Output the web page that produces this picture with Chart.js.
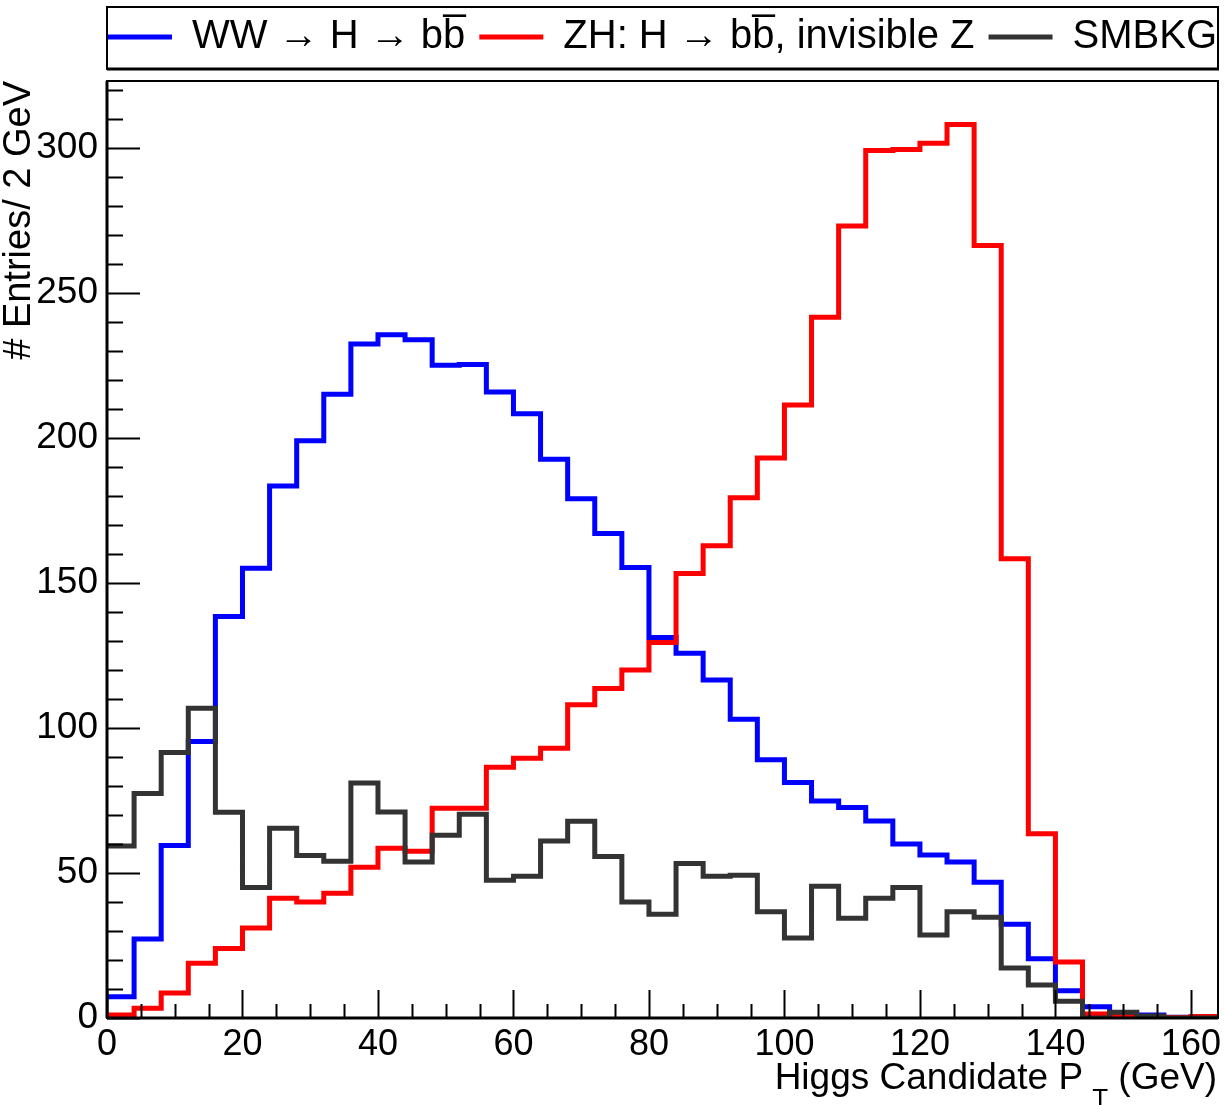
<!DOCTYPE html>
<html>
<head>
<meta charset="utf-8">
<script src="https://cdn.jsdelivr.net/npm/chart.js@4.4.1/dist/chart.umd.min.js"></script>
<style>
  html, body { margin: 0; padding: 0; background: #fff; }
  #c { display: block; }
</style>
</head>
<body>
<canvas id="c" width="1224" height="1105"></canvas>
<script>
// histogram bins, 4 GeV wide (lower edges) ..................................
const binLow = [0, 4, 8, 12, 16, 20, 24, 28, 32, 36, 40, 44, 48, 52, 56, 60, 64, 68, 72, 76,
  80, 84, 88, 92, 96, 100, 104, 108, 112, 116, 120, 124, 128, 132, 136, 140, 144, 148, 152, 156, 160];
const binHigh = 164;

const wwH = [7.3, 27.2, 59.5, 95.3, 138.4, 155, 183.4, 199, 215, 232.3, 235.5, 233.8, 225, 225.3,
  215.8, 208.3, 192.6, 179, 167, 155.3, 131.2, 125.7, 116.5, 103, 89, 81.2, 74.8, 72.6, 67.9, 60,
  56.2, 53.8, 46.8, 32.3, 20.4, 9.4, 3.9, 1.6, 1, 0.3, 0.2];
const zhH = [1, 3.4, 8.6, 18.9, 24, 31, 41.3, 40, 43, 52, 58.5, 57.5, 72.3, 72.3, 86.4, 89.5, 93,
  108, 113.6, 120, 129.4, 153.2, 162.8, 179.3, 193, 211.3, 241.6, 273, 299, 299.4, 301.5, 308,
  266.3, 158.3, 63.5, 19.3, 1.4, 0.6, 0.3, 0.2, 0.5];
const smbkg = [59.3, 77.4, 91.5, 106.8, 70.9, 45, 65.4, 56, 54, 81, 71, 53.8, 63, 70.2, 47.5, 48.9,
  61, 67.8, 55.7, 40, 35.8, 53.3, 48.9, 49.2, 36.6, 27.6, 45.4, 34.4, 41.3, 45, 28.6, 36.6, 34.7,
  17.2, 11.4, 5.8, 0, 2, 0.7, 0, 0];

const seriesNames = ['WW \u2192 H \u2192 bb\u0305', 'ZH: H \u2192 bb\u0305, invisible Z', 'SMBKG'];
const seriesColors = ['#0000ff', '#ff0000', '#333333'];

const xTicks = [0, 20, 40, 60, 80, 100, 120, 140, 160];
const yMax = 323;

const FONT = '"Liberation Sans", Arial, Helvetica, sans-serif';

function histPoints(vals) {
  let pts = binLow.map((x, i) => ({ x: x, y: vals[i] }));
  pts.push({ x: binHigh, y: vals[vals.length - 1] });
  return pts;
}

function dataset(i, vals) {
  return {
    label: seriesNames[i],
    data: histPoints(vals),
    xAxisID: 'x',
    yAxisID: 'y',
    borderColor: seriesColors[i],
    backgroundColor: seriesColors[i],
    borderWidth: 5,
    stepped: true,
    pointRadius: 0,
    fill: false,
    order: 3 - i
  };
}

// inner ticks, frame, legend box and x title (ROOT look) ......................
const rootFrame = {
  id: 'rootFrame',
  afterLayout(chart) {
    // push the legend row a bit to the right, like the ROOT legend
    chart.legend.right += 13;
  },
  afterDatasetsDraw(chart) {
    const { ctx, chartArea: a, scales: { x, y } } = chart;
    ctx.save();
    ctx.strokeStyle = '#000';
    ctx.lineWidth = 2;
    ctx.beginPath();
    for (let v = 0; v <= binHigh; v += 5) {
      const px = Math.round(x.getPixelForValue(v)) + 0.5;
      const len = v % 20 === 0 ? 28 : 14;
      ctx.moveTo(px, a.bottom);
      ctx.lineTo(px, a.bottom - len);
    }
    for (let v = 0; v <= yMax; v += 10) {
      const py = Math.round(y.getPixelForValue(v)) + 0.5;
      const len = v % 50 === 0 ? 33 : 16;
      ctx.moveTo(a.left, py);
      ctx.lineTo(a.left + len, py);
    }
    ctx.stroke();
    ctx.strokeRect(a.left, a.top, a.right - a.left, a.bottom - a.top);
    ctx.lineWidth = 3;
    ctx.beginPath();
    ctx.moveTo(a.left, a.bottom);
    ctx.lineTo(a.right, a.bottom);
    ctx.moveTo(a.left, a.top);
    ctx.lineTo(a.left, a.bottom);
    ctx.stroke();

    // legend frame
    ctx.lineWidth = 2;
    ctx.strokeRect(a.left, 7, a.right - a.left, 62);
    ctx.lineWidth = 3;
    ctx.beginPath();
    ctx.moveTo(a.left, 69);
    ctx.lineTo(a.right + 1, 69);
    ctx.stroke();

    // x axis title with subscript
    const big = '37px ' + FONT, small = '26px ' + FONT;
    const main = 'Higgs Candidate P', sub = 'T', tail = ' (GeV)';
    ctx.fillStyle = '#000';
    ctx.textBaseline = 'alphabetic';
    ctx.textAlign = 'left';
    ctx.font = big;
    const wMain = ctx.measureText(main).width, wTail = ctx.measureText(tail).width;
    ctx.font = small;
    const wSub = ctx.measureText(sub).width;
    const gap = 9;
    let tx = a.right - 1 - (wMain + gap + wSub + wTail);
    const base = 1089;
    ctx.font = big;
    ctx.fillText(main, tx, base);
    ctx.font = small;
    ctx.fillText(sub, tx + wMain + gap, base + 18);
    ctx.font = big;
    ctx.fillText(tail, tx + wMain + gap + wSub, base);
    ctx.restore();
  }
};

new Chart(document.getElementById('c'), {
  type: 'line',
  data: {
    datasets: [dataset(0, wwH), dataset(1, zhH), dataset(2, smbkg)]
  },
  options: {
    responsive: false,
    animation: false,
    devicePixelRatio: 1,
    layout: { padding: { top: 3, right: 6, left: 0, bottom: 0 } },
    plugins: {
      tooltip: { enabled: false },
      legend: {
        position: 'top',
        align: 'end',
        labels: {
          usePointStyle: true,
          pointStyle: 'line',
          pointStyleWidth: 64,
          padding: 14,
          color: '#000',
          font: { family: FONT, size: 40 },
          sort: (a, b) => a.datasetIndex - b.datasetIndex
        }
      }
    },
    scales: {
      x: {
        type: 'linear',
        min: 0,
        max: binHigh,
        grid: { display: false },
        border: { display: false },
        afterFit: s => { s.height = 87; s.paddingLeft = 0; s.paddingRight = 0; },
        afterBuildTicks: s => { s.ticks = xTicks.map(v => ({ value: v })); },
        ticks: {
          color: '#000',
          padding: -3,
          maxRotation: 0,
          autoSkip: false,
          font: { family: FONT, size: 36 }
        }
      },
      xtop: {
        type: 'linear',
        axis: 'x',
        position: 'top',
        min: 0,
        max: binHigh,
        grid: { display: false },
        border: { display: false },
        ticks: { display: false },
        afterFit: s => { s.height = 14; s.paddingLeft = 0; s.paddingRight = 0; }
      },
      y: {
        min: 0,
        max: yMax,
        grid: { display: false },
        border: { display: false },
        afterFit: s => { s.width = 107; s.paddingTop = 0; s.paddingBottom = 0; },
        ticks: {
          color: '#000',
          stepSize: 50,
          includeBounds: false,
          padding: 1,
          font: { family: FONT, size: 37 }
        },
        title: {
          display: true,
          text: '# Entries/ 2 GeV',
          align: 'end',
          color: '#000',
          padding: { top: -3, bottom: 0 },
          font: { family: FONT, size: 38 }
        }
      }
    }
  },
  plugins: [rootFrame]
});
</script>
</body>
</html>
